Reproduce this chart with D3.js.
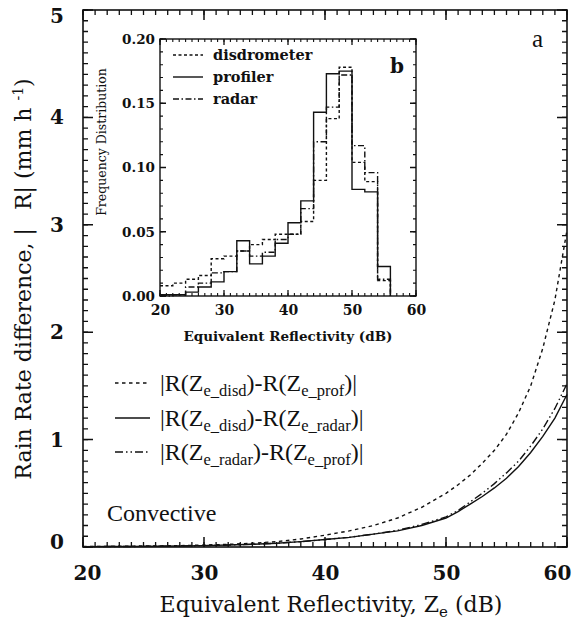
<!DOCTYPE html>
<html>
<head>
<meta charset="utf-8">
<script src="https://cdn.jsdelivr.net/npm/d3@7"></script>
<style>
  html, body { margin: 0; padding: 0; background: #fff; }
  svg { display: block; }
</style>
</head>
<body>
<svg id="chart" width="579" height="621"></svg>
<script>
// ---------------- DATA ----------------
// Main panel (a): rain-rate differences vs equivalent reflectivity
const zeMain = [20,22,24,26,28,30,32,34,36,38,40,42,44,46,48,50,51,52,53,54,55,56,57,58,59,60];
const diffDisdProf  = [0.005,0.006,0.008,0.010,0.013,0.018,0.025,0.035,0.050,0.075,0.110,0.150,0.200,0.270,0.370,0.500,0.580,0.670,0.780,0.900,1.050,1.250,1.500,1.850,2.300,2.950];
const diffDisdRadar = [0.003,0.004,0.005,0.007,0.010,0.013,0.018,0.025,0.035,0.050,0.070,0.090,0.120,0.150,0.200,0.270,0.330,0.400,0.470,0.550,0.640,0.750,0.880,1.030,1.200,1.420];
const diffRadarProf = [0.003,0.004,0.005,0.007,0.010,0.013,0.018,0.025,0.035,0.050,0.070,0.090,0.120,0.155,0.210,0.280,0.340,0.420,0.500,0.590,0.690,0.800,0.940,1.100,1.290,1.520];

// Inset panel (b): frequency distributions, 2 dB bins starting at these edges
const binEdges = [20,22,24,26,28,30,32,34,36,38,40,42,44,46,48,50,52,54];
const binEnd = 56;
const freqDisd  = [0.008,0.010,0.013,0.016,0.029,0.031,0.035,0.040,0.044,0.048,0.048,0.058,0.090,0.138,0.178,0.104,0.089,0.012];
const freqProf  = [0.001,0.001,0.003,0.007,0.011,0.019,0.043,0.025,0.031,0.041,0.057,0.074,0.143,0.173,0.175,0.083,0.081,0.023];
const freqRadar = [0.000,0.001,0.007,0.010,0.018,0.019,0.035,0.031,0.034,0.044,0.048,0.068,0.120,0.147,0.172,0.117,0.096,0.013];

// Tick labels
const mainXTicks = [20,30,40,50,60];
const mainYTicks = [0,1,2,3,4,5];
const insetXTicks = [20,30,40,50,60];
const insetYTicks = [0,0.05,0.10,0.15,0.20];

// ---------------- DRAW ----------------
const svg = d3.select("#chart");
const ink = "#111";
const serifWide = "'DejaVu Serif', serif";
const serifTimes = "'Liberation Serif', 'Times New Roman', serif";

// main scales
const x = d3.scaleLinear().domain([20,60]).range([83,567]);
const y = d3.scaleLinear().domain([0,5]).range([547,10]);

// inward ticks on all four sides of a frame, positioned by the scales
function frameTicks(xs, ys, xVals, yVals, len, w) {
  const y0 = ys.range()[0], y1 = ys.range()[1];
  const x0 = xs.range()[0], x1 = xs.range()[1];
  let d = "";
  xVals.forEach(v => { d += `M${xs(v)},${y0}v${-len}M${xs(v)},${y1}v${len}`; });
  yVals.forEach(v => { d += `M${x0},${ys(v)}h${len}M${x1},${ys(v)}h${-len}`; });
  svg.append("path").attr("d", d).attr("fill", "none").attr("stroke", ink).attr("stroke-width", w);
}
function labelAxis(g) { g.select(".domain").remove(); g.selectAll(".tick line").remove(); }

frameTicks(x, y, d3.range(20,61,1), d3.range(0,50.5,1).map(d=>d/10), 5, 1.3);
frameTicks(x, y, mainXTicks, mainYTicks, 10, 1.5);

// labels
const gxb = svg.append("g").attr("transform",`translate(0,${y(0)})`)
  .call(d3.axisBottom(x).tickValues(mainXTicks).tickSize(0).tickPadding(19).tickFormat(d3.format("d")));
gxb.call(labelAxis);
gxb.selectAll("text").attr("font-family", serifWide).attr("font-weight","bold").attr("font-size",20).attr("fill",ink)
  .attr("dx", d => d === 60 ? -10 : (d === 20 ? 4 : 0));
const gyl = svg.append("g").attr("transform",`translate(${x(20)},0)`)
  .call(d3.axisLeft(y).tickValues(mainYTicks).tickSize(0).tickPadding(19).tickFormat(d3.format("d")));
gyl.call(labelAxis);
gyl.selectAll("text").attr("font-family", serifWide).attr("font-weight","bold").attr("font-size",20).attr("fill",ink)
  .attr("dy", d => d === 5 ? "0.62em" : (d === 0 ? "0.05em" : "0.32em"));

// frame
svg.append("rect").attr("x",x(20)).attr("y",y(5)).attr("width",x(60)-x(20)).attr("height",y(0)-y(5))
  .attr("fill","none").attr("stroke",ink).attr("stroke-width",1.6);

// main curves
const line = d3.line().x(d=>x(d[0])).y(d=>y(d[1]));
const mainSeries = [
  {vals: diffDisdProf,  dash: "3.5,3.5"},
  {vals: diffDisdRadar, dash: null},
  {vals: diffRadarProf, dash: "8,3,1.5,3,1.5,3"}
];
mainSeries.forEach(s => {
  svg.append("path").datum(zeMain.map((z,i)=>[z,s.vals[i]]))
    .attr("d", line).attr("fill","none").attr("stroke",ink).attr("stroke-width",1.4)
    .attr("stroke-dasharray", s.dash);
});

// axis titles
const xt = svg.append("text").attr("x",331).attr("y",612).attr("text-anchor","middle")
  .attr("font-family",serifWide).attr("font-size",22).attr("fill",ink);
xt.append("tspan").text("Equivalent Reflectivity, Z");
xt.append("tspan").attr("font-size",15).attr("dy",5).text("e");
xt.append("tspan").attr("dy",-5).text(" (dB)");

const yt = svg.append("text").attr("transform","translate(31,279) rotate(-90)").attr("text-anchor","middle")
  .attr("font-family",serifWide).attr("font-size",22).attr("fill",ink);
yt.append("tspan").text("Rain Rate difference, |\u2002 R| (mm h ");
yt.append("tspan").attr("font-size",14).attr("dy",-8).text("-1");
yt.append("tspan").attr("dy",8).text(")");

// panel label a
svg.append("text").attr("x",532).attr("y",47).attr("font-family",serifTimes).attr("font-size",25).attr("fill",ink).text("a");

// main legend
const legRows = [
  {y: 383, dash: "3.5,3.5", a: "e_disd", b: "e_prof"},
  {y: 418, dash: null,      a: "e_disd", b: "e_radar"},
  {y: 452, dash: "8,3,1.5,3,1.5,3", a: "e_radar", b: "e_prof"}
];
legRows.forEach(r => {
  svg.append("line").attr("x1",115).attr("x2",150).attr("y1",r.y).attr("y2",r.y)
    .attr("stroke",ink).attr("stroke-width",1.4).attr("stroke-dasharray", r.dash);
  const t = svg.append("text").attr("x",160).attr("y",r.y+8).attr("font-family",serifTimes)
    .attr("font-size",24).attr("fill",ink);
  t.append("tspan").text("|R(Z");
  t.append("tspan").attr("font-size",16.5).attr("dy",5).text(r.a);
  t.append("tspan").attr("dy",-5).text(")-R(Z");
  t.append("tspan").attr("font-size",16.5).attr("dy",5).text(r.b);
  t.append("tspan").attr("dy",-5).text(")|");
});

svg.append("text").attr("x",107).attr("y",521).attr("font-family",serifTimes).attr("font-size",24)
  .attr("fill",ink).text("Convective");

// ---------------- INSET ----------------
const ix = d3.scaleLinear().domain([20,60]).range([160,416]);
const iy = d3.scaleLinear().domain([0,0.2]).range([296,39]);

svg.append("rect").attr("x",ix(20)).attr("y",iy(0.2)).attr("width",ix(60)-ix(20)).attr("height",iy(0)-iy(0.2))
  .attr("fill","#fff");

frameTicks(ix, iy, d3.range(20,61,1), d3.range(0,20.5,1).map(d=>d/100), 3, 1.1);
frameTicks(ix, iy, insetXTicks, insetYTicks, 6, 1.3);

const ixb = svg.append("g").attr("transform",`translate(0,${iy(0)})`)
  .call(d3.axisBottom(ix).tickValues(insetXTicks).tickSize(0).tickPadding(9).tickFormat(d3.format("d")));
ixb.call(labelAxis);
ixb.selectAll("text").attr("font-family",serifWide).attr("font-weight","bold").attr("font-size",14).attr("fill",ink);
const iyl = svg.append("g").attr("transform",`translate(${ix(20)},0)`)
  .call(d3.axisLeft(iy).tickValues(insetYTicks).tickSize(0).tickPadding(5).tickFormat(d3.format(".2f")));
iyl.call(labelAxis);
iyl.selectAll("text").attr("font-family",serifWide).attr("font-weight","bold").attr("font-size",13.5).attr("fill",ink);

// histograms (step lines)
const stepLine = d3.line().x(d=>ix(d[0])).y(d=>iy(d[1])).curve(d3.curveStepAfter);
const histSeries = [
  {vals: freqDisd,  dash: "3,2.5"},
  {vals: freqProf,  dash: null},
  {vals: freqRadar, dash: "6,2.5,1.5,2.5"}
];
histSeries.forEach(s => {
  const pts = binEdges.map((e,i)=>[e, s.vals[i]]);
  pts.push([binEnd, 0]);
  svg.append("path").datum(pts).attr("d", stepLine).attr("fill","none")
    .attr("stroke",ink).attr("stroke-width",1.4).attr("stroke-dasharray", s.dash);
});

svg.append("rect").attr("x",ix(20)).attr("y",iy(0.2)).attr("width",ix(60)-ix(20)).attr("height",iy(0)-iy(0.2))
  .attr("fill","none").attr("stroke",ink).attr("stroke-width",1.4);

// inset titles
svg.append("text").attr("x",(ix(20)+ix(60))/2).attr("y",341).attr("text-anchor","middle")
  .attr("font-family",serifWide).attr("font-weight","bold").attr("font-size",13.5).attr("fill",ink)
  .text("Equivalent Reflectivity (dB)");
svg.append("text").attr("transform","translate(106,142) rotate(-90)").attr("text-anchor","middle")
  .attr("font-family",serifWide).attr("font-size",12.5).attr("fill",ink).text("Frequency Distribution");

svg.append("text").attr("x",390).attr("y",73).attr("font-family",serifWide).attr("font-weight","bold")
  .attr("font-size",20).attr("fill",ink).text("b");

// inset legend
const insetLeg = [
  {label: "disdrometer", dash: "3,2.5", y: 55},
  {label: "profiler",    dash: null,    y: 77},
  {label: "radar",       dash: "6,2.5,1.5,2.5", y: 99}
];
insetLeg.forEach(l => {
  svg.append("line").attr("x1",173).attr("x2",203).attr("y1",l.y).attr("y2",l.y)
    .attr("stroke",ink).attr("stroke-width",1.4).attr("stroke-dasharray", l.dash);
  svg.append("text").attr("x",213).attr("y",l.y+5).attr("font-family",serifWide).attr("font-weight","bold")
    .attr("font-size",14.5).attr("fill",ink).text(l.label);
});
</script>
</body>
</html>
